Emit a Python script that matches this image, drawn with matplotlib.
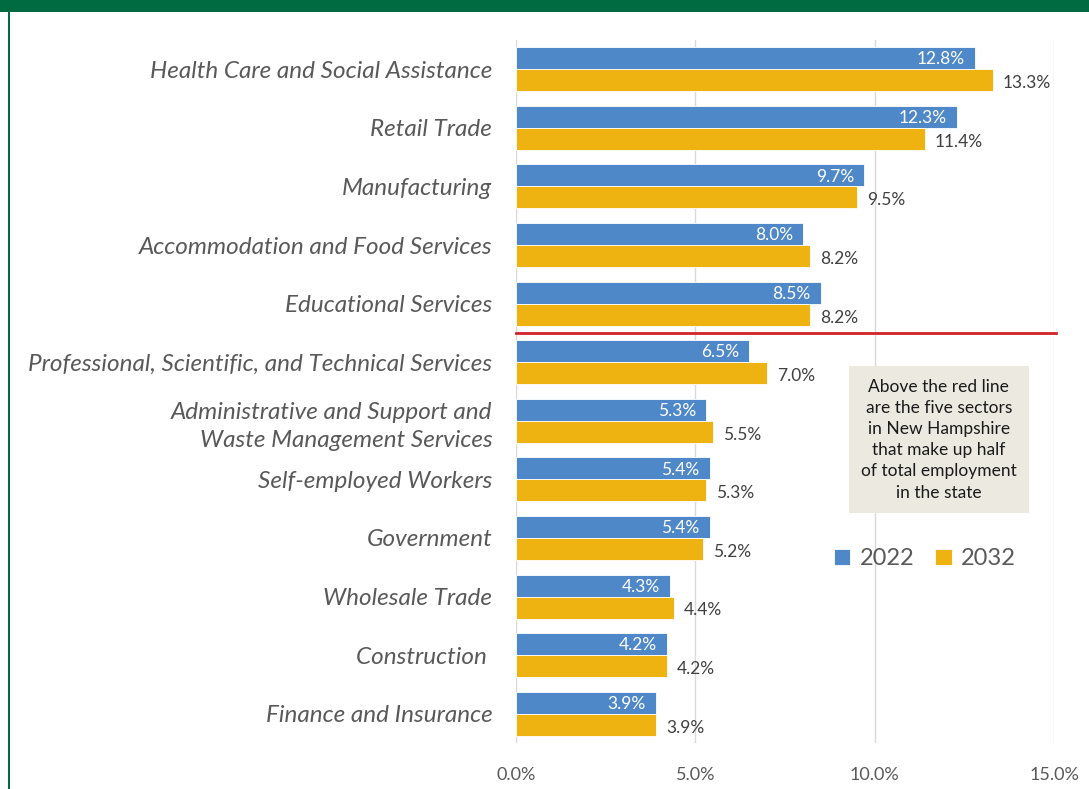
import matplotlib.pyplot as plt
from matplotlib.patches import Rectangle
from matplotlib.ticker import FuncFormatter

plt.rcParams['font.family'] = ['Lato', 'DejaVu Sans']

# Share of total employment by industry sector
sectors = [
    'Health Care and Social Assistance',
    'Retail Trade',
    'Manufacturing',
    'Accommodation and Food Services',
    'Educational Services',
    'Professional, Scientific, and Technical Services',
    'Administrative and Support and\nWaste Management Services',
    'Self-employed Workers',
    'Government',
    'Wholesale Trade',
    'Construction ',
    'Finance and Insurance',
]
share_2022 = [12.8, 12.3, 9.7, 8.0, 8.5, 6.5, 5.3, 5.4, 5.4, 4.3, 4.2, 3.9]
share_2032 = [13.3, 11.4, 9.5, 8.2, 8.2, 7.0, 5.5, 5.3, 5.2, 4.4, 4.2, 3.9]

blue = '#4F88C8'
gold = '#EEB211'
green = '#006A40'
grey = '#595959'

fig = plt.figure(figsize=(10.89, 7.89), dpi=100)
ax = fig.add_axes([0.4738, 0.0583, 0.4941, 0.891])

pos = list(range(len(sectors)))
h = 0.375
bars_a = ax.barh([p - h / 2 for p in pos], share_2022, height=h, color=blue,
                 edgecolor='white', linewidth=0.6, label='2022', zorder=2)
bars_b = ax.barh([p + h / 2 for p in pos], share_2032, height=h, color=gold,
                 edgecolor='white', linewidth=0.6, label='2032', zorder=2)

for b, v in zip(bars_a, share_2022):
    ax.text(b.get_width() - 0.28, b.get_y() + b.get_height() / 2 + 0.02, f'{v:.1f}%',
            ha='right', va='center', color='white', fontsize=12.5)
for b, v in zip(bars_b, share_2032):
    ax.text(b.get_width() + 0.28, b.get_y() + b.get_height() / 2 + 0.05, f'{v:.1f}%',
            ha='left', va='center', color='#404040', fontsize=12.5)

ax.set_xlim(0, 15)
ax.set_ylim(11.5, -0.5)
ax.set_xticks([0, 5, 10, 15])
ax.xaxis.set_major_formatter(FuncFormatter(lambda x, _: f'{x:.1f}%'))
ax.set_yticks(pos)
ax.set_yticklabels(sectors, fontsize=17.5, style='italic', color=grey,
                   linespacing=1.45)
ax.tick_params(axis='y', length=0, pad=17)
ax.tick_params(axis='x', length=0, pad=17, labelsize=13, labelcolor=grey)
ax.grid(axis='x', color='#D9D9D9', linewidth=1, zorder=0)
for s in ax.spines.values():
    s.set_visible(False)

# red divider under the top five sectors
ax.plot([0, 15.05], [4.5, 4.5], color='#D2232A', linewidth=2, clip_on=False, zorder=3)

ax.text(11.79, 6.32,
        'Above the red line\nare the five sectors\nin New Hampshire\nthat make up half\n'
        'of total employment\nin the state',
        ha='center', va='center', fontsize=12.5, color='#1a1a1a', linespacing=1.4,
        bbox=dict(boxstyle='square,pad=0.7', facecolor='#ECEAE0', edgecolor='none'),
        zorder=4)

ax.legend(loc='center', bbox_to_anchor=(0.76, 0.262), ncol=2, frameon=False,
          fontsize=17, labelcolor=grey, handlelength=0.7, handleheight=0.7,
          handletextpad=0.4, columnspacing=0.88)

# green header band and side rule
fig.patches.append(Rectangle((0, 1 - 12 / 789), 1, 12 / 789, transform=fig.transFigure,
                             facecolor=green, edgecolor='none'))
fig.patches.append(Rectangle((8 / 1089, 0), 2 / 1089, 1 - 12 / 789,
                             transform=fig.transFigure, facecolor=green, edgecolor='none'))

fig.savefig('out.png', dpi=100)
